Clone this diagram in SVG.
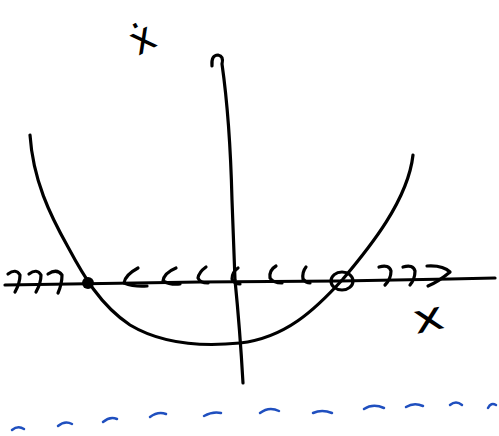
<svg xmlns="http://www.w3.org/2000/svg" width="499" height="436" viewBox="0 0 499 436">
<style>
.s{fill:none;stroke:#000;stroke-width:3.2;stroke-linecap:round;stroke-linejoin:round}
.b{fill:none;stroke:#1f4fbf;stroke-width:2.5;stroke-linecap:round}
.lbl{font-family:"DejaVu Sans",sans-serif;fill:#000}
</style>
<rect width="499" height="436" fill="#fff"/>
<g id="axes">
<path class="s" d="M5,285 L200,282 L340,281 L450,279 L495,278"/>
<path class="s" d="M212,66 Q211,55 218,55 Q224,56 222,64 Q230,120 232,200 L235,280 Q240,330 243,383"/>
</g>
<g id="curve">
<path class="s" d="M30,135 C33,180 50,215 68,247 C83,275 100,305 130,325 C160,343 200,347 240,343 C285,338 315,310 343,279 C370,247 408,200 413,155"/>
</g>
<g id="fixed-points">
<circle cx="88" cy="283" r="6" fill="#000"/>
<ellipse cx="342" cy="281" rx="11" ry="9" class="s"/>
</g>
<g id="connectors">
<path class="s" d="M8,274 Q16,268 20,275 Q20,283 15,292"/>
<path class="s" d="M29,274 Q37,268 41,275 Q41,283 36,292"/>
<path class="s" d="M48,274 Q57,268 62,275 Q62,284 58,293"/>
<path class="s" d="M138,268 Q125,275 124,283 Q134,287 147,286"/>
<path class="s" d="M176,268 Q164,273 163,281 Q170,285 180,284"/>
<path class="s" d="M206,267 Q199,272 198,278 Q200,283 208,283"/>
<path class="s" d="M238,268 Q232,272 232,279 Q234,284 240,284"/>
<path class="s" d="M276,266 Q269,270 270,278 Q273,283 282,283"/>
<path class="s" d="M306,267 Q302,272 303,279 Q306,283 310,283"/>
<path class="s" d="M379,267 Q389,264 391,271 Q391,279 385,285"/>
<path class="s" d="M403,267 Q413,264 415,271 Q415,279 410,285"/>
<path class="s" d="M427,266 Q443,265 450,272 M428,286 Q438,282 450,272"/>
</g>
<g id="labels">
<text class="lbl" font-size="40" transform="translate(138,56) rotate(-28)">ẋ</text>
<text class="lbl" font-size="40" transform="translate(416,334) rotate(-12) scale(1.3,1)">x</text>
</g>
<g id="ground">
<path class="b" d="M12,430 Q18,425 24,429"/>
<path class="b" d="M58,426 Q65,420 72,424"/>
<path class="b" d="M103,422 Q110,416 117,419"/>
<path class="b" d="M150,417 Q158,411 166,414"/>
<path class="b" d="M204,416 Q213,411 221,413"/>
<path class="b" d="M260,413 Q269,406 279,411"/>
<path class="b" d="M313,413 Q322,409 332,413"/>
<path class="b" d="M364,409 Q373,403 384,408"/>
<path class="b" d="M406,407 Q414,402 423,406"/>
<path class="b" d="M450,405 Q456,400 462,405"/>
<path class="b" d="M488,408 Q491,402 496,405"/>
</g>
</svg>
